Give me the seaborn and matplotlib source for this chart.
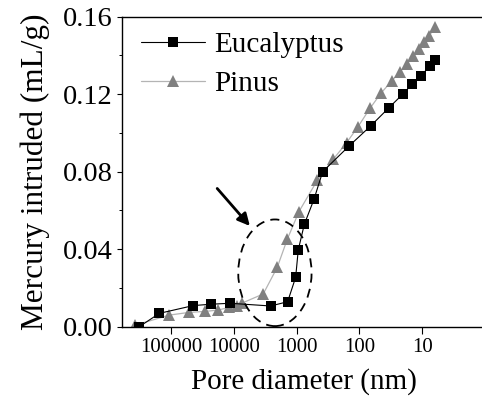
import numpy as np
import pandas as pd
import matplotlib
matplotlib.use("Agg")
import matplotlib.pyplot as plt
import seaborn as sns
from matplotlib.patches import Ellipse
from matplotlib.ticker import FixedLocator, MultipleLocator, LogLocator, NullFormatter

# ---- data ----
euc_d = [320000, 153000, 44200, 23300, 11500, 2590, 1390, 1036, 942, 755, 530,
         385, 145, 66.4, 34.0, 20.5, 14.6, 10.6, 7.55, 6.28]
euc_v = [0.0, 0.0069, 0.0109, 0.0116, 0.0121, 0.0107, 0.0129, 0.0255, 0.0396, 0.0528,
         0.0657, 0.0800, 0.0934, 0.1036, 0.1130, 0.1200, 0.1251, 0.1294, 0.1345, 0.1375]
pin_d = [374000, 106000, 51200, 28500, 17700, 11800, 9000, 7500, 3400, 2030, 1410,
         918, 466, 261, 160, 107, 68, 45.5, 30.7, 22.6, 17.5, 14.1, 11.3, 9.4, 7.8, 6.3]
pin_v = [0.0008, 0.0060, 0.0074, 0.0079, 0.0086, 0.0100, 0.0108, 0.0121, 0.0169, 0.0307,
         0.0451, 0.0594, 0.0757, 0.0864, 0.0950, 0.1029, 0.1127, 0.1205, 0.1268, 0.1316,
         0.1356, 0.1397, 0.1433, 0.1469, 0.1500, 0.1545]
x_ticks = [100000, 10000, 1000, 100, 10]
x_tick_labels = ["100000", "10000", "1000", "100", "10"]
y_ticks = [0.00, 0.04, 0.08, 0.12, 0.16]
y_tick_labels = ["0.00", "0.04", "0.08", "0.12", "0.16"]

sns.set_theme(style="ticks")
plt.rcParams["font.family"] = ["Liberation Serif", "DejaVu Serif"]

fig = plt.figure(figsize=(4.82, 4.03), dpi=100)
ax = fig.add_axes([0.2533, 0.1893, 0.7531, 0.7692])

sns.lineplot(x=euc_d, y=euc_v, ax=ax, color="black", lw=0.8, marker="s",
             markersize=6.7, markerfacecolor="black", markeredgecolor="black",
             markeredgewidth=0, label="Eucalyptus", zorder=3)
sns.lineplot(x=pin_d, y=pin_v, ax=ax, color="#b4b4b4", lw=0.9, marker="^",
             markersize=8.7, markerfacecolor="#808080", markeredgecolor="#808080",
             markeredgewidth=0, label="Pinus", zorder=2)

ax.set_xscale("log")
ax.set_xlim(6e5, 1)
ax.set_ylim(0, 0.16)

ax.xaxis.set_major_locator(FixedLocator(x_ticks))
ax.set_xticklabels(x_tick_labels)
ax.xaxis.set_minor_locator(LogLocator(base=10, subs=np.arange(2, 10)))
ax.xaxis.set_minor_formatter(NullFormatter())
ax.set_yticks(y_ticks)
ax.set_yticklabels(y_tick_labels)
ax.yaxis.set_minor_locator(MultipleLocator(0.02))

ax.tick_params(axis="x", which="major", direction="out", length=5, width=0.8,
               labelsize=15, pad=3, color="black", labelcolor="black")
ax.tick_params(axis="x", which="minor", direction="out", length=3, width=0.7, color="black")
ax.tick_params(axis="y", which="major", direction="out", length=3.6, width=0.8,
               labelsize=20.5, pad=3, color="black", labelcolor="black")
ax.tick_params(axis="y", which="minor", direction="out", length=2, width=0.7, color="black")
ax.tick_params(top=False, right=False, which="both")

for s in ax.spines.values():
    s.set_color("black")
    s.set_linewidth(1.0)

ax.set_xlabel("Pore diameter (nm)", fontsize=21, color="black", labelpad=8)
ax.set_ylabel("Mercury intruded (mL/g)", fontsize=22.5, color="black", labelpad=9)

leg = ax.legend(loc="upper left", bbox_to_anchor=(0.052, 0.953), frameon=False,
                fontsize=21, handlelength=2.2, handletextpad=0.3, borderpad=0,
                labelspacing=0.44, borderaxespad=0)
for t in leg.get_texts():
    t.set_color("black")

# dashed ellipse and arrow annotation
ell = Ellipse((0.421, 0.174), 0.202, 0.344, transform=ax.transAxes, fill=False,
              edgecolor="black", linestyle=(0, (5, 3.5)), linewidth=1.3, zorder=4)
ax.add_patch(ell)
ax.annotate("", xy=(0.352, 0.325), xycoords="axes fraction",
            xytext=(0.262, 0.446), textcoords="axes fraction",
            arrowprops=dict(arrowstyle="-|>", color="black", lw=2.0, mutation_scale=18,
                            shrinkA=0, shrinkB=0))

fig.savefig("out.png", dpi=100)
